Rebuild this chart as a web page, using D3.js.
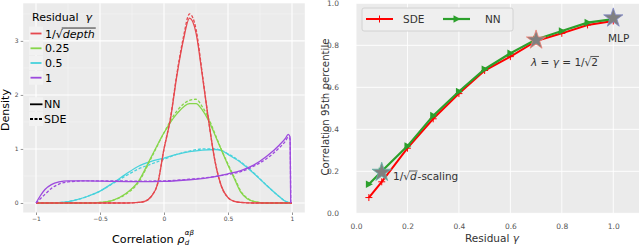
<!DOCTYPE html>
<html>
<head>
<meta charset="utf-8">
<script src="https://cdn.jsdelivr.net/npm/d3@7"></script>
<style>
  body { margin: 0; background: #fff; }
  svg { display: block; font-family: "DejaVu Sans", sans-serif; }
  svg text { white-space: pre; }
</style>
</head>
<body>
<div id="chart"></div>
<script>
// ---- left panel: density of correlation, points as [rho, density]
const redNN = [[-1,0],[-0.3,0],[-0.2,0.01],[-0.15,0.03],[-0.1,0.12],[-0.05,0.35],[0,1.0],[0.05,1.55],[0.1,2.35],[0.15,3.0],[0.2,3.42],[0.25,3.15],[0.3,2.35],[0.35,1.5],[0.4,0.75],[0.45,0.3],[0.5,0.1],[0.55,0.03],[0.6,0.01],[0.7,0],[1,0]];
const redSDE = [[-1,0],[-0.3,0],[-0.2,0.01],[-0.15,0.03],[-0.1,0.12],[-0.05,0.36],[0,1.0],[0.05,1.57],[0.1,2.38],[0.15,3.05],[0.2,3.5],[0.25,3.22],[0.3,2.38],[0.35,1.5],[0.4,0.76],[0.45,0.3],[0.5,0.1],[0.55,0.03],[0.6,0.01],[0.7,0],[1,0]];
const greenNN = [[-1,0],[-0.6,0],[-0.5,0.01],[-0.4,0.05],[-0.3,0.17],[-0.2,0.4],[-0.1,0.85],[0,1.3],[0.1,1.65],[0.2,1.84],[0.25,1.84],[0.3,1.72],[0.35,1.52],[0.4,1.25],[0.45,0.97],[0.5,0.7],[0.55,0.45],[0.6,0.2],[0.65,0.08],[0.7,0.03],[0.8,0],[1,0]];
const greenSDE = [[-1,0],[-0.6,0],[-0.5,0.01],[-0.4,0.05],[-0.3,0.16],[-0.2,0.38],[-0.1,0.83],[0,1.3],[0.1,1.7],[0.2,1.9],[0.25,1.92],[0.3,1.78],[0.35,1.56],[0.4,1.27],[0.45,0.98],[0.5,0.72],[0.55,0.47],[0.6,0.22],[0.65,0.09],[0.7,0.03],[0.8,0],[1,0]];
const cyanNN = [[-1,0],[-0.9,0],[-0.8,0.01],[-0.7,0.05],[-0.6,0.12],[-0.5,0.22],[-0.4,0.37],[-0.3,0.53],[-0.2,0.68],[-0.1,0.77],[0,0.83],[0.1,0.9],[0.2,0.95],[0.3,0.98],[0.4,0.99],[0.45,0.97],[0.5,0.9],[0.6,0.75],[0.7,0.55],[0.8,0.33],[0.9,0.12],[0.95,0.03],[1,0]];
const cyanSDE = [[-1,0],[-0.9,0],[-0.8,0.01],[-0.7,0.05],[-0.6,0.12],[-0.5,0.22],[-0.4,0.36],[-0.3,0.5],[-0.2,0.63],[-0.1,0.72],[0,0.81],[0.1,0.9],[0.2,0.96],[0.3,1.0],[0.4,1.0],[0.45,0.97],[0.5,0.91],[0.6,0.76],[0.7,0.56],[0.8,0.33],[0.9,0.12],[0.95,0.03],[1,0]];
const purpleNN = [[-1,0],[-0.97,0.12],[-0.93,0.25],[-0.88,0.34],[-0.82,0.39],[-0.75,0.41],[-0.6,0.41],[-0.4,0.4],[-0.2,0.395],[0,0.4],[0.2,0.43],[0.4,0.49],[0.5,0.54],[0.6,0.6],[0.7,0.7],[0.8,0.86],[0.9,1.07],[0.95,1.2],[0.97,1.27],[0.985,1.22],[0.99,0]];
const purpleSDE = [[-1,0],[-0.97,0.07],[-0.93,0.16],[-0.88,0.27],[-0.82,0.35],[-0.75,0.39],[-0.6,0.41],[-0.4,0.41],[-0.2,0.405],[0,0.41],[0.2,0.44],[0.4,0.49],[0.5,0.53],[0.6,0.58],[0.7,0.68],[0.8,0.82],[0.9,1.02],[0.95,1.15],[0.97,1.22],[0.985,1.18],[0.99,0]];

const gammaLabels = ["0.25", "0.5", "1"];
const densityTicksX = [-1, -0.5, 0, 0.5, 1];
const densityTicksY = [0, 1, 2, 3];

// ---- right panel: 95th percentile of correlation vs residual gamma
const gammas = [0.05, 0.1, 0.2, 0.3, 0.4, 0.5, 0.6, 0.7, 0.8, 0.9, 1.0];
const sdeP95 = [0.075, 0.15, 0.31, 0.45, 0.57, 0.68, 0.746, 0.82, 0.857, 0.897, 0.916];
const nnP95 = [0.138, 0.2, 0.32, 0.465, 0.58, 0.686, 0.762, 0.828, 0.868, 0.908, 0.925];
const starPoints = [[0.1, 0.195], [0.7, 0.825], [1.0, 0.93]];
const starEdges = ["#5fb3a6", "#f07f72", "#8088c8"];
const p95TicksX = [0, 0.2, 0.4, 0.6, 0.8, 1.0];
const p95TicksY = [0, 0.2, 0.4, 0.6, 0.8, 1.0];

const W = 640, H = 246;
const svg = d3.select("#chart").append("svg").attr("width", W).attr("height", H);

// lay out a row of text pieces side by side
function richText(g, x, y, parts, size, fill) {
    let cx = x;
    parts.forEach(function(p) {
        const t = g.append("text")
            .attr("x", cx)
            .attr("y", y + (p.dy || 0))
            .attr("font-size", p.size || size)
            .attr("fill", fill)
            .attr("font-style", p.italic ? "italic" : null)
            .text(p.t);
        const w = t.node().getComputedTextLength();
        if (p.over) {
            g.append("line")
                .attr("x1", cx - 1).attr("x2", cx + w + 1)
                .attr("y1", y - size * 0.86).attr("y2", y - size * 0.86)
                .attr("stroke", fill).attr("stroke-width", 0.8);
        }
        cx += w + (p.gap || 0);
    });
    return cx;
}

// =================== LEFT ===================
const xL = d3.scaleLinear().domain([-1.1, 1.1]).range([23.2, 304.8]);
const yL = d3.scaleLinear().domain([-0.176, 3.696]).range([212.5, 3.3]);
const left = svg.append("g");

left.append("rect")
    .attr("x", xL(-1.1)).attr("y", yL(3.696))
    .attr("width", xL(1.1) - xL(-1.1)).attr("height", yL(-0.176) - yL(3.696))
    .attr("fill", "#ebebeb");

// minor grid
left.selectAll(".minx").data([-0.75, -0.25, 0.25, 0.75]).enter().append("line")
    .attr("x1", d => xL(d)).attr("x2", d => xL(d))
    .attr("y1", yL(3.696)).attr("y2", yL(-0.176))
    .attr("stroke", "#f5f5f5").attr("stroke-width", 0.6);
left.selectAll(".miny").data([0.5, 1.5, 2.5, 3.5]).enter().append("line")
    .attr("y1", d => yL(d)).attr("y2", d => yL(d))
    .attr("x1", xL(-1.1)).attr("x2", xL(1.1))
    .attr("stroke", "#f5f5f5").attr("stroke-width", 0.6);
// major grid
left.selectAll(".majx").data(densityTicksX).enter().append("line")
    .attr("x1", d => xL(d)).attr("x2", d => xL(d))
    .attr("y1", yL(3.696)).attr("y2", yL(-0.176))
    .attr("stroke", "#fff").attr("stroke-width", 1.1);
left.selectAll(".majy").data(densityTicksY).enter().append("line")
    .attr("y1", d => yL(d)).attr("y2", d => yL(d))
    .attr("x1", xL(-1.1)).attr("x2", xL(1.1))
    .attr("stroke", "#fff").attr("stroke-width", 1.1);

// axes
const axLx = left.append("g").attr("transform", "translate(0," + yL(-0.176) + ")")
    .call(d3.axisBottom(xL).tickValues(densityTicksX).tickSize(2.5).tickPadding(2)
        .tickFormat(d => String(d).replace("-", "\u2212")));
const axLy = left.append("g").attr("transform", "translate(" + xL(-1.1) + ",0)")
    .call(d3.axisLeft(yL).tickValues(densityTicksY).tickSize(2.5).tickPadding(2)
        .tickFormat(d3.format("d")));
[axLx, axLy].forEach(function(a) {
    a.select(".domain").remove();
    a.selectAll("line").attr("stroke", "#4d4d4d").attr("stroke-width", 0.6);
    a.selectAll("text").attr("font-size", 6).attr("fill", "#4d4d4d")
        .attr("font-family", "DejaVu Sans, sans-serif");
});

const lineL = d3.line().x(d => xL(d[0])).y(d => yL(d[1])).curve(d3.curveMonotoneX);
const densSeries = [
    {nn: cyanNN, sde: cyanSDE, color: "#47d2dc"},
    {nn: greenNN, sde: greenSDE, color: "#86d64a"},
    {nn: redNN, sde: redSDE, color: "#e5484e"},
    {nn: purpleNN, sde: purpleSDE, color: "#9d4ade"}
];
densSeries.forEach(function(s) {
    left.append("path").datum(s.sde).attr("d", lineL)
        .attr("fill", "none").attr("stroke", s.color).attr("stroke-width", 1.3)
        .attr("stroke-dasharray", "3,1.8");
    left.append("path").datum(s.nn).attr("d", lineL)
        .attr("fill", "none").attr("stroke", s.color).attr("stroke-width", 1.3);
});

// legend
const legL = left.append("g");
richText(legL, 32, 20.5, [{t: "Residual  "}, {t: "\u03b3", italic: true}], 11, "#000");
const keyColors = ["#e5484e", "#86d64a", "#47d2dc", "#9d4ade"];
const keyY = [33.5, 48.3, 63, 77.7];
keyColors.forEach(function(c, i) {
    legL.append("rect").attr("x", 29).attr("y", keyY[i] - 7).attr("width", 14).attr("height", 14)
        .attr("fill", "#f2f2f2");
    legL.append("line").attr("x1", 30.5).attr("x2", 41.5).attr("y1", keyY[i]).attr("y2", keyY[i])
        .attr("stroke", c).attr("stroke-width", 1.8);
});
richText(legL, 45, keyY[0] + 4, [{t: "1/\u221a"}, {t: "depth", italic: true, over: true}], 11, "#000");
gammaLabels.forEach(function(l, i) {
    legL.append("text").attr("x", 45).attr("y", keyY[i + 1] + 4).attr("font-size", 11).text(l);
});
[[104.3, null, "NN"], [119, "3,1.5", "SDE"]].forEach(function(k) {
    legL.append("rect").attr("x", 29).attr("y", k[0] - 7).attr("width", 14).attr("height", 14)
        .attr("fill", "#f2f2f2");
    legL.append("line").attr("x1", 30).attr("x2", 42.5).attr("y1", k[0]).attr("y2", k[0])
        .attr("stroke", "#000").attr("stroke-width", 1.8).attr("stroke-dasharray", k[1]);
    legL.append("text").attr("x", 44).attr("y", k[0] + 4).attr("font-size", 11).text(k[2]);
});

// axis titles
left.append("text").attr("transform", "translate(9,110) rotate(-90)")
    .attr("text-anchor", "middle").attr("font-size", 11).text("Density");
const xtL = left.append("g");
const rhoEnd = richText(xtL, 112, 243, [{t: "Correlation "}, {t: "\u03c1", italic: true}], 11.2, "#000");
xtL.append("text").attr("x", rhoEnd + 0.5).attr("y", 245).attr("font-size", 7)
    .attr("font-style", "italic").text("d");
xtL.append("text").attr("x", rhoEnd + 0.5).attr("y", 235).attr("font-size", 7)
    .attr("font-style", "italic").text("\u03b1\u03b2");

// =================== RIGHT ===================
const xR = d3.scaleLinear().domain([0, 1.1]).range([356, 639]);
const yR = d3.scaleLinear().domain([0, 1]).range([213.3, 3.3]);
const right = svg.append("g");

right.append("rect")
    .attr("x", xR(0)).attr("y", yR(1))
    .attr("width", xR(1.1) - xR(0)).attr("height", yR(0) - yR(1))
    .attr("fill", "#ebebeb");
right.selectAll(".gx").data(p95TicksX).enter().append("line")
    .attr("x1", d => xR(d)).attr("x2", d => xR(d))
    .attr("y1", yR(1)).attr("y2", yR(0))
    .attr("stroke", "#fff").attr("stroke-width", 0.9);
right.selectAll(".gy").data(p95TicksY).enter().append("line")
    .attr("y1", d => yR(d)).attr("y2", d => yR(d))
    .attr("x1", xR(0)).attr("x2", xR(1.1))
    .attr("stroke", "#fff").attr("stroke-width", 0.9);

const axRx = right.append("g").attr("transform", "translate(0," + yR(0) + ")")
    .call(d3.axisBottom(xR).tickValues(p95TicksX).tickSize(0).tickPadding(10).tickFormat(d3.format(".1f")));
const axRy = right.append("g").attr("transform", "translate(" + xR(0) + ",0)")
    .call(d3.axisLeft(yR).tickValues(p95TicksY).tickSize(0).tickPadding(17).tickFormat(d3.format(".1f")));
[axRx, axRy].forEach(function(a) {
    a.select(".domain").remove();
    a.selectAll("text").attr("font-size", 7.5).attr("fill", "#555")
        .attr("font-family", "DejaVu Sans, sans-serif");
});

const lineR = d3.line().x(d => xR(d[0])).y(d => yR(d[1]));
const sdePts = gammas.map((g, i) => [g, sdeP95[i]]);
const nnPts = gammas.map((g, i) => [g, nnP95[i]]);

right.append("path").datum(sdePts).attr("d", lineR)
    .attr("fill", "none").attr("stroke", "#ff0000").attr("stroke-width", 2);
right.selectAll(".plus").data(sdePts).enter().append("path")
    .attr("transform", d => "translate(" + xR(d[0]) + "," + yR(d[1]) + ")")
    .attr("d", "M-3.5,0H3.5M0,-3.5V3.5")
    .attr("stroke", "#ff0000").attr("stroke-width", 1);
right.append("path").datum(nnPts).attr("d", lineR)
    .attr("fill", "none").attr("stroke", "#2ca02c").attr("stroke-width", 2.2);
right.selectAll(".tri").data(nnPts).enter().append("path")
    .attr("transform", d => "translate(" + xR(d[0]) + "," + yR(d[1]) + ")")
    .attr("d", "M-3,-3.8L4,0L-3,3.8Z")
    .attr("fill", "#2ca02c");

const star = d3.symbol().type(d3.symbolStar).size(115);
right.selectAll(".star").data(starPoints).enter().append("path")
    .attr("transform", d => "translate(" + xR(d[0]) + "," + yR(d[1]) + ")")
    .attr("d", star)
    .attr("fill", "#808080")
    .attr("stroke", (d, i) => starEdges[i]).attr("stroke-width", 0.8);

// annotations
richText(right, 393, 180, [{t: "1/\u221a"}, {t: "d", italic: true, over: true, gap: 1}, {t: "-scaling"}], 10.5, "#333");
richText(right, 531, 65.5, [{t: "\u03bb", italic: true}, {t: " = "}, {t: "\u03b3", italic: true},
    {t: " = 1/\u221a"}, {t: "2", over: true}], 10.5, "#333");
right.append("text").attr("x", 608).attr("y", 42).attr("font-size", 10.5).attr("fill", "#333").text("MLP");

// legend
const legR = right.append("g");
legR.append("rect").attr("x", 362).attr("y", 8).attr("width", 151).attr("height", 23).attr("rx", 2)
    .attr("fill", "#efefef").attr("stroke", "#cccccc").attr("stroke-width", 0.8);
legR.append("line").attr("x1", 366).attr("x2", 393).attr("y1", 19).attr("y2", 19)
    .attr("stroke", "#ff0000").attr("stroke-width", 2);
legR.append("path").attr("transform", "translate(379.5,19)").attr("d", "M-3.5,0H3.5M0,-3.5V3.5")
    .attr("stroke", "#ff0000").attr("stroke-width", 1);
legR.append("text").attr("x", 403).attr("y", 23).attr("font-size", 10.5).attr("fill", "#333").text("SDE");
legR.append("line").attr("x1", 443).attr("x2", 470).attr("y1", 19).attr("y2", 19)
    .attr("stroke", "#2ca02c").attr("stroke-width", 2.2);
legR.append("path").attr("transform", "translate(456.5,19)").attr("d", "M-3,-3.8L4,0L-3,3.8Z")
    .attr("fill", "#2ca02c");
legR.append("text").attr("x", 485).attr("y", 23).attr("font-size", 10.5).attr("fill", "#333").text("NN");

// axis titles
right.append("text").attr("transform", "translate(329,107) rotate(-90)")
    .attr("text-anchor", "middle").attr("font-size", 10.2).attr("fill", "#333")
    .text("Correlation 95th percentile");
richText(right, 465, 242, [{t: "Residual "}, {t: "\u03b3", italic: true}], 10.5, "#333");
</script>
</body>
</html>
